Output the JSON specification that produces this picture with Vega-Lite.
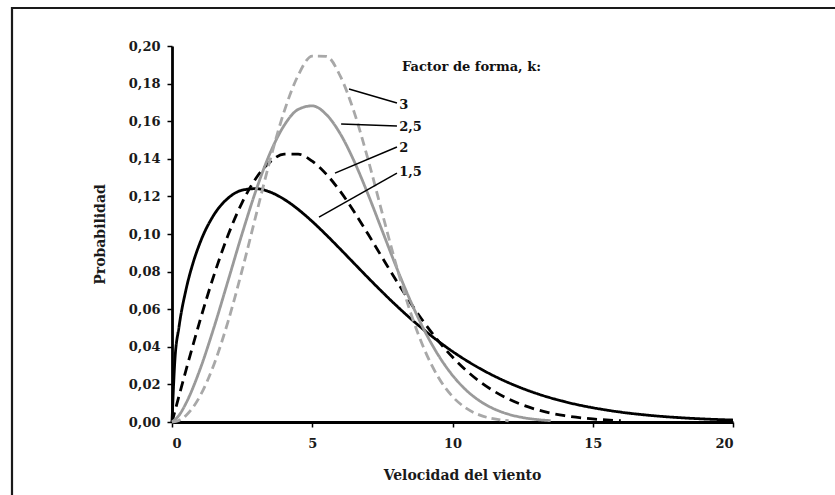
{
  "$schema": "https://vega.github.io/schema/vega-lite/v6.json",
  "width": 830,
  "height": 495,
  "autosize": "none",
  "padding": {"left": 12, "top": 8, "right": 0, "bottom": 0},
  "background": "white",
  "datasets": {
    "curves": [
      {"k": "1,5", "v": 0, "p": 0},
      {"k": "1,5", "v": 0.1, "p": 0.0322},
      {"k": "1,5", "v": 0.25, "p": 0.0506},
      {"k": "1,5", "v": 0.5, "p": 0.07045},
      {"k": "1,5", "v": 0.75, "p": 0.08457},
      {"k": "1,5", "v": 1, "p": 0.09535},
      {"k": "1,5", "v": 1.5, "p": 0.11031},
      {"k": "1,5", "v": 2, "p": 0.11907},
      {"k": "1,5", "v": 2.5, "p": 0.12331},
      {"k": "1,5", "v": 3, "p": 0.12413},
      {"k": "1,5", "v": 3.5, "p": 0.1223},
      {"k": "1,5", "v": 4, "p": 0.11844},
      {"k": "1,5", "v": 4.5, "p": 0.11308},
      {"k": "1,5", "v": 5, "p": 0.10665},
      {"k": "1,5", "v": 5.5, "p": 0.09952},
      {"k": "1,5", "v": 6, "p": 0.09197},
      {"k": "1,5", "v": 6.5, "p": 0.08426},
      {"k": "1,5", "v": 7, "p": 0.07658},
      {"k": "1,5", "v": 7.5, "p": 0.0691},
      {"k": "1,5", "v": 8, "p": 0.06191},
      {"k": "1,5", "v": 8.5, "p": 0.0551},
      {"k": "1,5", "v": 9, "p": 0.04877},
      {"k": "1,5", "v": 9.5, "p": 0.0429},
      {"k": "1,5", "v": 10, "p": 0.03753},
      {"k": "1,5", "v": 11, "p": 0.02828},
      {"k": "1,5", "v": 12, "p": 0.0209},
      {"k": "1,5", "v": 13, "p": 0.01516},
      {"k": "1,5", "v": 14, "p": 0.01081},
      {"k": "1,5", "v": 15, "p": 0.00759},
      {"k": "1,5", "v": 16, "p": 0.00524},
      {"k": "1,5", "v": 17, "p": 0.00357},
      {"k": "1,5", "v": 18, "p": 0.0024},
      {"k": "1,5", "v": 19, "p": 0.00159},
      {"k": "1,5", "v": 20, "p": 0.00104},
      {"k": "2", "v": 0, "p": 0},
      {"k": "2", "v": 0.25, "p": 0.01387},
      {"k": "2", "v": 0.5, "p": 0.02759},
      {"k": "2", "v": 1, "p": 0.05403},
      {"k": "2", "v": 1.5, "p": 0.07828},
      {"k": "2", "v": 2, "p": 0.09943},
      {"k": "2", "v": 2.5, "p": 0.11675},
      {"k": "2", "v": 3, "p": 0.1298},
      {"k": "2", "v": 3.5, "p": 0.13837},
      {"k": "2", "v": 4, "p": 0.14248},
      {"k": "2", "v": 4.5, "p": 0.14245},
      {"k": "2", "v": 5, "p": 0.13871},
      {"k": "2", "v": 5.5, "p": 0.13187},
      {"k": "2", "v": 6, "p": 0.12263},
      {"k": "2", "v": 6.5, "p": 0.11167},
      {"k": "2", "v": 7, "p": 0.0997},
      {"k": "2", "v": 7.5, "p": 0.08734},
      {"k": "2", "v": 8, "p": 0.07512},
      {"k": "2", "v": 8.5, "p": 0.06347},
      {"k": "2", "v": 9, "p": 0.0527},
      {"k": "2", "v": 9.5, "p": 0.04302},
      {"k": "2", "v": 10, "p": 0.03454},
      {"k": "2", "v": 10.5, "p": 0.02728},
      {"k": "2", "v": 11, "p": 0.0212},
      {"k": "2", "v": 11.5, "p": 0.01622},
      {"k": "2", "v": 12, "p": 0.01221},
      {"k": "2", "v": 12.5, "p": 0.00905},
      {"k": "2", "v": 13, "p": 0.00661},
      {"k": "2", "v": 13.5, "p": 0.00475},
      {"k": "2", "v": 14, "p": 0.00336},
      {"k": "2", "v": 15, "p": 0.00161},
      {"k": "2", "v": 16, "p": 0.00072},
      {"k": "2,5", "v": 0, "p": 0},
      {"k": "2,5", "v": 0.25, "p": 0.00354},
      {"k": "2,5", "v": 0.5, "p": 0.01},
      {"k": "2,5", "v": 1, "p": 0.02803},
      {"k": "2,5", "v": 1.5, "p": 0.05048},
      {"k": "2,5", "v": 2, "p": 0.0752},
      {"k": "2,5", "v": 2.5, "p": 0.10019},
      {"k": "2,5", "v": 3, "p": 0.12344},
      {"k": "2,5", "v": 3.5, "p": 0.14315},
      {"k": "2,5", "v": 4, "p": 0.15778},
      {"k": "2,5", "v": 4.5, "p": 0.16627},
      {"k": "2,5", "v": 5, "p": 0.16816},
      {"k": "2,5", "v": 5.5, "p": 0.16358},
      {"k": "2,5", "v": 6, "p": 0.15328},
      {"k": "2,5", "v": 6.5, "p": 0.13849},
      {"k": "2,5", "v": 7, "p": 0.12071},
      {"k": "2,5", "v": 7.5, "p": 0.1015},
      {"k": "2,5", "v": 8, "p": 0.08235},
      {"k": "2,5", "v": 8.5, "p": 0.06445},
      {"k": "2,5", "v": 9, "p": 0.04865},
      {"k": "2,5", "v": 9.5, "p": 0.03541},
      {"k": "2,5", "v": 10, "p": 0.02484},
      {"k": "2,5", "v": 10.5, "p": 0.01678},
      {"k": "2,5", "v": 11, "p": 0.01092},
      {"k": "2,5", "v": 11.5, "p": 0.00684},
      {"k": "2,5", "v": 12, "p": 0.00412},
      {"k": "2,5", "v": 12.5, "p": 0.00238},
      {"k": "2,5", "v": 13, "p": 0.00132},
      {"k": "2,5", "v": 13.5, "p": 0.00071},
      {"k": "3", "v": 0, "p": 0},
      {"k": "3", "v": 0.25, "p": 0.00087},
      {"k": "3", "v": 0.5, "p": 0.00347},
      {"k": "3", "v": 1, "p": 0.01382},
      {"k": "3", "v": 1.5, "p": 0.03077},
      {"k": "3", "v": 2, "p": 0.05354},
      {"k": "3", "v": 2.5, "p": 0.08075},
      {"k": "3", "v": 3, "p": 0.11031},
      {"k": "3", "v": 3.5, "p": 0.13951},
      {"k": "3", "v": 4, "p": 0.16524},
      {"k": "3", "v": 4.5, "p": 0.18445},
      {"k": "3", "v": 5, "p": 0.19466},
      {"k": "3", "v": 5.5, "p": 0.19448},
      {"k": "3", "v": 6, "p": 0.18394},
      {"k": "3", "v": 6.5, "p": 0.16456},
      {"k": "3", "v": 7, "p": 0.13907},
      {"k": "3", "v": 7.5, "p": 0.1108},
      {"k": "3", "v": 8, "p": 0.08308},
      {"k": "3", "v": 8.5, "p": 0.05844},
      {"k": "3", "v": 9, "p": 0.0385},
      {"k": "3", "v": 9.5, "p": 0.02367},
      {"k": "3", "v": 10, "p": 0.01355},
      {"k": "3", "v": 10.5, "p": 0.0072},
      {"k": "3", "v": 11, "p": 0.00354},
      {"k": "3", "v": 11.5, "p": 0.00161},
      {"k": "3", "v": 12, "p": 0.00067}
    ],
    "leaders": [
      {"k": "3", "v": 6.31, "p": 0.1771, "v2": 8.02, "p2": 0.1697},
      {"k": "2,5", "v": 6.03, "p": 0.1585, "v2": 8.02, "p2": 0.1574},
      {"k": "2", "v": 5.81, "p": 0.1324, "v2": 8.02, "p2": 0.1463},
      {"k": "1,5", "v": 5.24, "p": 0.109, "v2": 8.02, "p2": 0.1324}
    ],
    "labels": [
      {"t": "Factor de forma, k:", "v": 8.2, "p": 0.1888},
      {"t": "3", "v": 8.1, "p": 0.1686},
      {"t": "2,5", "v": 8.1, "p": 0.1569},
      {"t": "2", "v": 8.1, "p": 0.1457},
      {"t": "1,5", "v": 8.1, "p": 0.133}
    ]
  },
  "encoding": {
    "x": {
      "field": "v", "type": "quantitative",
      "scale": {"domain": [0, 20], "range": [160, 721], "nice": false, "zero": false},
      "axis": {
        "title": "Velocidad del viento", "orient": "bottom", "offset": -81,
        "values": [0, 5, 10, 15, 20], "format": "d", "grid": false,
        "titleX": 450, "titlePadding": 18, "labelPadding": 10
      }
    },
    "y": {
      "field": "p", "type": "quantitative",
      "scale": {"domain": [0, 0.2], "range": [414, 38], "nice": false, "zero": false},
      "axis": {
        "title": "Probabilidad", "orient": "left", "offset": -160,
        "values": [0, 0.02, 0.04, 0.06, 0.08, 0.1, 0.12, 0.14, 0.16, 0.18, 0.2],
        "format": ".2f", "grid": false, "titlePadding": 21, "labelPadding": 7
      }
    }
  },
  "layer": [
    {
      "data": {"name": "curves"},
      "mark": {"type": "line", "interpolate": "monotone", "strokeWidth": 2.8, "strokeCap": "butt"},
      "encoding": {
        "detail": {"field": "k", "type": "nominal"},
        "color": {
          "field": "k", "type": "nominal", "legend": null,
          "scale": {"domain": ["1,5", "2", "2,5", "3"], "range": ["#000000", "#000000", "#9a9a9a", "#a8a8a8"]}
        },
        "strokeDash": {
          "field": "k", "type": "nominal", "legend": null,
          "scale": {"domain": ["1,5", "2", "2,5", "3"], "range": [[1, 0], [10, 6], [1, 0], [9, 5]]}
        }
      }
    },
    {
      "data": {"name": "leaders"},
      "mark": {"type": "rule", "color": "#000000", "strokeWidth": 1.5},
      "encoding": {
        "x2": {"field": "v2"},
        "y2": {"field": "p2"}
      }
    },
    {
      "data": {"name": "labels"},
      "mark": {"type": "text", "align": "left", "baseline": "middle", "font": "DejaVu Serif", "fontWeight": "bold", "fontSize": 13, "color": "#111111"},
      "encoding": {
        "text": {"field": "t", "type": "nominal"}
      }
    },
    {
      "data": {"values": [{}]},
      "mark": {"type": "rule", "color": "#000000", "strokeWidth": 2.5},
      "encoding": {
        "x": {"datum": 20},
        "y": {"datum": 0},
        "y2": {"datum": 0.2}
      }
    }
  ],
  "config": {
    "locale": {"number": {"decimal": ",", "thousands": ".", "grouping": [3], "currency": ["", " €"]}},
    "view": {"stroke": "#1a1a1a", "strokeWidth": 2.2},
    "axis": {
      "domainColor": "#000000", "domainWidth": 2.8, "tickColor": "#000000", "tickWidth": 1.5, "tickSize": 5,
      "labelFont": "DejaVu Serif", "labelFontSize": 13, "labelFontWeight": "bold", "labelColor": "#1a1a1a",
      "titleFont": "DejaVu Serif", "titleFontSize": 14, "titleFontWeight": "bold", "titleColor": "#1a1a1a"
    }
  }
}
